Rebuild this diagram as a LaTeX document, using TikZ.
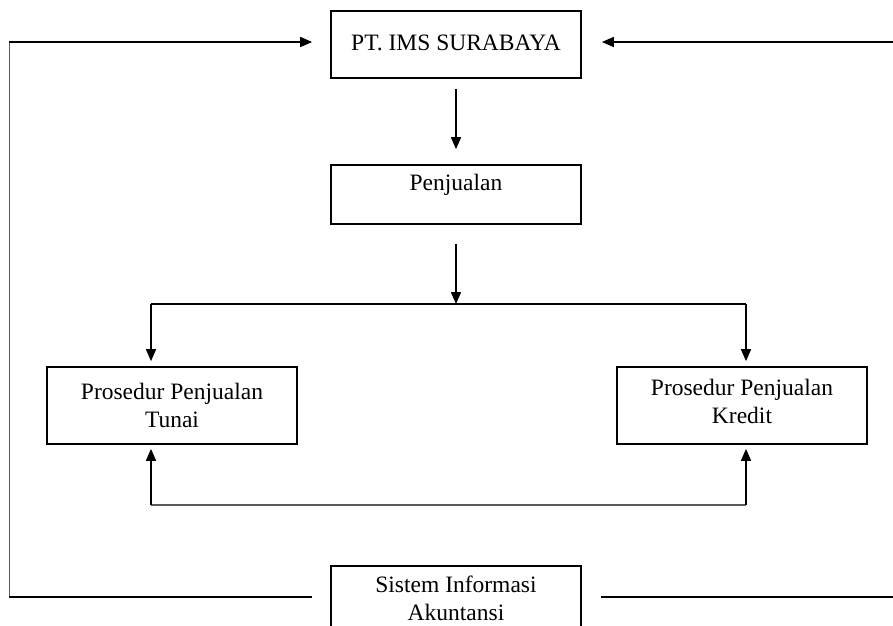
\documentclass[tikz,border=0pt]{standalone}
\usepackage{fontspec}
\setmainfont{Liberation Serif}
\usetikzlibrary{arrows.meta,calc}
\begin{document}
\begin{tikzpicture}[x=1pt,y=-1pt,
  box/.style={draw=black,line width=1.7pt,minimum width=250pt,inner sep=0pt},
  txt/.style={font=\fontsize{23.5}{27.5}\selectfont,align=center,inner sep=0pt},
  arr/.style={line width=1.5pt,-{Triangle[length=12pt,width=10pt]}},
  ln/.style={line width=1.4pt},
  thin/.style={line width=0.9pt,draw=black!65}]
\useasboundingbox (0,0) rectangle (893,625);
\clip (0,0) rectangle (893,625);
% boxes
\node[box,minimum height=67pt] (pt) at (456,44.5) {};
\node[txt] (ptt) at (456,43) {PT. IMS SURABAYA};
\node[box,minimum height=59pt] (pen) at (456,194.5) {};
\node[txt] (pent) at (456,185) {Penjualan};
\node[box,minimum height=77pt] (tun) at (172,405.5) {};
\node[txt] (tunt) at (172,405.5) {Prosedur Penjualan\\Tunai};
\node[box,minimum height=77pt] (kre) at (742,405.5) {};
\node[txt] (kret) at (742,401.5) {Prosedur Penjualan\\Kredit};
\node[box,minimum height=80pt] (sia) at (456,606) {};
\node[txt] (siat) at (456,598.5) {Sistem Informasi\\Akuntansi};
% coordinates
\coordinate (tl) at (9,42);
\coordinate (bl) at (9,597);
\coordinate (tr) at (893,42);
\coordinate (br) at (893,597);
\coordinate (jtop) at (456,304);
\coordinate (jl) at (151,304);
\coordinate (jr) at (746,304);
\coordinate (bjl) at (151,505);
\coordinate (bjr) at (746,505);
\coordinate (siaL) at ($(sia.west)+(-18,-9)$);
\coordinate (siaR) at ($(sia.east)+(19,-9)$);
% connectors
\draw[thin] (bl) -- (tl);
\draw[ln] (siaL) -- (bl);
\draw[arr] (tl) -- ($(pt.west)+(-18,-2.5)$);
\draw[arr] (tr) -- ($(pt.east)+(20,-2.5)$);
\draw[ln] (siaR) -- (br);
\draw[arr] ($(pt.south)+(0,10)$) -- ($(pen.north)+(0,-15)$);
\draw[arr] ($(pen.south)+(0,19)$) -- (jtop);
\draw[ln] (jl) -- (jr);
\draw[arr] (jl) -- ($(tun.north -| jl)+(0,-5)$);
\draw[arr] (jr) -- ($(kre.north -| jr)+(0,-5)$);
\draw[thin,line width=1.2pt] (bjl) -- (bjr);
\draw[arr] (bjl) -- ($(tun.south -| bjl)+(0,4)$);
\draw[arr] (bjr) -- ($(kre.south -| bjr)+(0,4)$);
\end{tikzpicture}
\end{document}
